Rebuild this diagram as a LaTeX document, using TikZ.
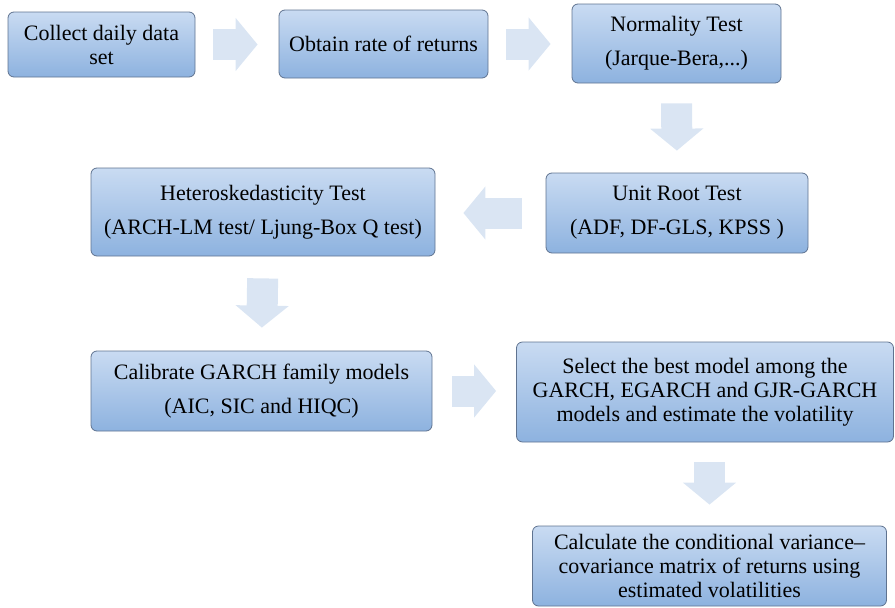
\documentclass[tikz,border=0pt]{standalone}
\usepackage{fontspec}
\setmainfont{Liberation Serif}
\usepackage{xcolor}
\usetikzlibrary{arrows.meta,calc}

\definecolor{boxtop}{HTML}{C9DBF2}
\definecolor{boxbot}{HTML}{8DB2DF}
\definecolor{boxline}{HTML}{5F7390}
\definecolor{arrowfill}{HTML}{DAE5F3}

\begin{document}
\begin{tikzpicture}[x=1pt,y=-1pt,
    stepbox/.style={draw=boxline, line width=0.8pt, rounded corners=6pt,
        top color=boxtop, bottom color=boxbot, align=center, inner sep=2pt,
        font=\fontsize{22}{24}\selectfont},
    fatarrow/.style={arrowfill, line width=31pt,
        -{Triangle[width=52pt,length=22pt]}}]
    \useasboundingbox (0,0) rectangle (895,608);

    % Boxes
    \node[stepbox, minimum width=187pt, minimum height=65pt] (collect) at (101.5,44.5)
        {Collect daily data\\set};
    \node[stepbox, minimum width=209pt, minimum height=68pt] (obtain) at (383.5,44)
        {Obtain rate of returns};
    \node[stepbox, minimum width=209pt, minimum height=79pt] (normal) at (676.5,43.5)
        {Normality Test\\[10pt](Jarque-Bera,...)};
    \node[stepbox, minimum width=262pt, minimum height=80pt] (unitroot) at (677,213)
        {Unit Root Test\\[10pt](ADF, DF-GLS, KPSS )};
    \node[stepbox, minimum width=344pt, minimum height=88pt] (hetero) at (263,212)
        {Heteroskedasticity Test\\[10pt](ARCH-LM test/ Ljung-Box Q test)};
    \node[stepbox, minimum width=341pt, minimum height=80pt] (calib) at (261.5,391)
        {Calibrate GARCH family models\\[10pt](AIC, SIC and HIQC)};
    \node[stepbox, minimum width=377pt, minimum height=100pt] (select) at (705,392)
        {Select the best model among the\\GARCH, EGARCH and GJR-GARCH\\models and estimate the volatility};
    \node[stepbox, minimum width=354pt, minimum height=80pt] (calc) at (709.5,566)
        {Calculate the conditional variance--\\covariance matrix of returns using\\estimated volatilities};

    % Block arrows
    \draw[fatarrow, shorten <=18pt, shorten >=21pt] (collect.east) -- (collect.east -| obtain.west);
    \draw[fatarrow, shorten <=18pt, shorten >=21pt] (obtain.east) -- (obtain.east -| normal.west);
    \draw[fatarrow, shorten <=20pt, shorten >=22pt] (normal.south) -- (unitroot.north);
    \draw[fatarrow, shorten <=24pt, shorten >=28pt] (unitroot.west) -- (unitroot.west -| hetero.east);
    \draw[fatarrow, shorten <=22pt, shorten >=23pt] (hetero.south) -- (calib.north);
    \draw[fatarrow, shorten <=20pt, shorten >=20pt] (calib.east) -- (calib.east -| select.west);
    \draw[fatarrow, shorten <=20pt, shorten >=21pt] (calc.north |- select.south) -- (calc.north);
\end{tikzpicture}
\end{document}
